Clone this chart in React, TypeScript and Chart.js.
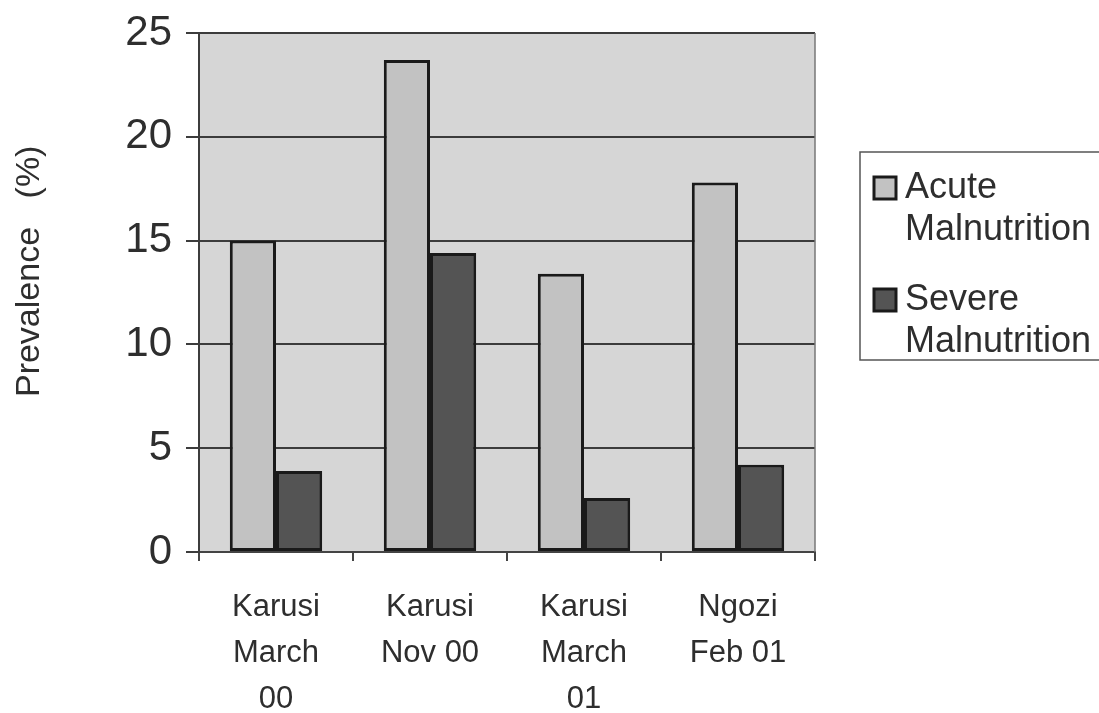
import React, { useEffect, useRef } from "react";
import { Chart, registerables } from "chart.js";

Chart.register(...registerables);

// Survey rounds (multi-line category labels)
const categories: string[][] = [
  ["Karusi", "March", "00"],
  ["Karusi", "Nov 00"],
  ["Karusi", "March", "01"],
  ["Ngozi", "Feb 01"],
];

// Prevalence (%) per survey
const acuteValues = [15, 23.7, 13.4, 17.8];
const severeValues = [3.9, 14.4, 2.6, 4.2];

const seriesNames = ["Acute Malnutrition", "Severe Malnutrition"];
const legendLines = [
  ["Acute", "Malnutrition"],
  ["Severe", "Malnutrition"],
];

const yMin = 0;
const yMax = 25;
const yStep = 5;
const yTitleMain = "Prevalence";
const yTitleUnit = "(%)";

const FONT = "'Liberation Sans', Arial, Helvetica, sans-serif";
const TEXT = "#2e2e2e";
const ACUTE_FILL = "#c2c2c2";
const SEVERE_FILL = "#545454";
const BAR_EDGE = "#1a1a1a";
const PLOT_BG = "#d6d6d6";

const decorations = {
  id: "decorations",
  beforeDraw(chart: Chart) {
    const { ctx, chartArea: a } = chart;
    ctx.save();
    ctx.fillStyle = PLOT_BG;
    ctx.fillRect(a.left, a.top, a.right - a.left, a.bottom - a.top);
    ctx.restore();
  },
  afterDraw(chart: Chart) {
    const { ctx, chartArea: a } = chart;
    ctx.save();

    // thin frame on the right side of the plot
    ctx.strokeStyle = "#777";
    ctx.lineWidth = 1.5;
    ctx.beginPath();
    ctx.moveTo(a.right, a.top);
    ctx.lineTo(a.right, a.bottom);
    ctx.stroke();

    // rotated axis title: name and unit set apart
    ctx.fillStyle = TEXT;
    ctx.font = `34px ${FONT}`;
    ctx.textAlign = "center";
    ctx.textBaseline = "middle";
    ctx.translate(30, 0);
    ctx.rotate(-Math.PI / 2);
    ctx.fillText(yTitleMain, -312, 0);
    ctx.fillText(yTitleUnit, -172, 0);
    ctx.setTransform(1, 0, 0, 1, 0, 0);

    // legend box
    const bx = 860;
    const by = 152;
    const bw = 270;
    const bh = 208;
    ctx.fillStyle = "#ffffff";
    ctx.fillRect(bx, by, bw, bh);
    ctx.strokeStyle = "#555";
    ctx.lineWidth = 1.5;
    ctx.strokeRect(bx, by, bw, bh);

    const fills = [ACUTE_FILL, SEVERE_FILL];
    const itemTops = [188, 300];
    ctx.font = `36px ${FONT}`;
    ctx.textAlign = "left";
    ctx.textBaseline = "middle";
    legendLines.forEach((lines, i) => {
      const cy = itemTops[i];
      ctx.fillStyle = fills[i];
      ctx.fillRect(874, cy - 11, 22, 22);
      ctx.strokeStyle = BAR_EDGE;
      ctx.lineWidth = 3;
      ctx.strokeRect(874, cy - 11, 22, 22);
      ctx.fillStyle = TEXT;
      lines.forEach((line, j) => {
        ctx.fillText(line, 905, cy + j * 42);
      });
    });

    ctx.restore();
  },
};

export default function App() {
  const canvasRef = useRef<HTMLCanvasElement | null>(null);

  useEffect(() => {
    document.body.style.margin = "0";
    const canvas = canvasRef.current;
    if (!canvas) return;

    const chart = new Chart(canvas, {
      type: "bar",
      data: {
        labels: categories,
        datasets: [
          {
            label: seriesNames[0],
            data: acuteValues,
            backgroundColor: ACUTE_FILL,
            borderColor: BAR_EDGE,
            borderWidth: 3,
            borderSkipped: false,
          },
          {
            label: seriesNames[1],
            data: severeValues,
            backgroundColor: SEVERE_FILL,
            borderColor: BAR_EDGE,
            borderWidth: 3,
            borderSkipped: false,
          },
        ],
      },
      options: {
        animation: false,
        responsive: false,
        maintainAspectRatio: false,
        layout: { padding: { top: 33, right: 284, left: 0, bottom: 0 } },
        datasets: {
          bar: { categoryPercentage: 0.6, barPercentage: 1.0 },
        },
        plugins: {
          legend: { display: false },
          tooltip: { enabled: false },
          title: { display: false },
        },
        scales: {
          x: {
            offset: true,
            grid: {
              offset: true,
              drawOnChartArea: false,
              drawTicks: true,
              tickLength: 9,
              color: "#444",
              lineWidth: 2,
            },
            border: { display: true, color: "#444", width: 2 },
            ticks: {
              color: TEXT,
              font: { family: FONT, size: 31, lineHeight: 1.48 },
              padding: 24,
              maxRotation: 0,
              autoSkip: false,
            },
            afterFit(scale: any) {
              scale.height = 161;
              scale.paddingLeft = 0;
              scale.paddingRight = 0;
            },
          },
          y: {
            min: yMin,
            max: yMax,
            ticks: {
              stepSize: yStep,
              color: TEXT,
              font: { family: FONT, size: 42 },
              padding: 14,
            },
            grid: {
              color: "#3c3c3c",
              lineWidth: 2,
              drawTicks: true,
              tickLength: 13,
            },
            border: { display: true, color: "#3c3c3c", width: 2 },
            afterFit(scale: any) {
              scale.width = 199;
              scale.paddingTop = 0;
              scale.paddingBottom = 0;
            },
          },
        },
      },
      plugins: [decorations],
    });

    return () => chart.destroy();
  }, []);

  return <canvas ref={canvasRef} width={1099} height={713} style={{ display: "block" }} />;
}
